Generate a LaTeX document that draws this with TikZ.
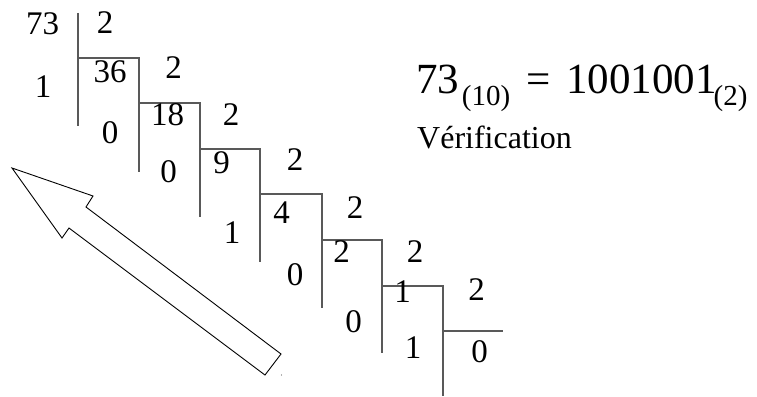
\documentclass[tikz,border=0pt]{standalone}
\usepackage{fontspec}
\setmainfont{Liberation Serif}
\tikzset{
  dg/.style={anchor=base, inner sep=0pt, font=\fontsize{33}{33}\selectfont},
  big/.style={anchor=base, inner sep=0pt, font=\fontsize{43}{43}\selectfont},
  sub/.style={anchor=base, inner sep=0pt, font=\fontsize{29}{29}\selectfont},
  rule/.style={draw=black!65, line width=1.4pt},
  blockarrow/.style={draw=black, line width=0.9pt, fill=white, line join=miter}
}
\begin{document}
\begin{tikzpicture}[x=1pt,y=-1pt]
\useasboundingbox (0,0) rectangle (757,396);
% division lines
\coordinate (a1) at (78,13);   \coordinate (a2) at (78,126);
\coordinate (h1a) at (78,58);  \coordinate (h1b) at (139,58);
\coordinate (b2) at (139,172);
\coordinate (h2b) at (200,103);
\coordinate (c2) at (200,217);
\coordinate (h3b) at (260,149);
\coordinate (d2) at (260,262);
\coordinate (h4b) at (322,194);
\coordinate (e2) at (322,308);
\coordinate (h5b) at (382,240);
\coordinate (f2) at (382,353);
\coordinate (h6b) at (443,286);
\coordinate (g2) at (443,396);
\coordinate (h7b) at (503,331);
\draw[rule] (a1) -- (a2);
\draw[rule] (h1a) -- (h1b) -- (b2);
\draw[rule] (h1b |- h2b) -- (h2b) -- (c2);
\draw[rule] (h2b |- h3b) -- (h3b) -- (d2);
\draw[rule] (h3b |- h4b) -- (h4b) -- (e2);
\draw[rule] (h4b |- h5b) -- (h5b) -- (f2);
\draw[rule] (h5b |- h6b) -- (h6b) -- (g2);
\draw[rule] (h6b |- h7b) -- (h7b);
% digits
\node[dg] (n73) at (42.5,35) {73};
\node[dg] (d1) at (105,34) {2};
\node[dg] (r1) at (43,97) {1};
\node[dg] (q1) at (110,82) {36};
\node[dg] (d2) at (173.5,78) {2};
\node[dg] (r2) at (110,143) {0};
\node[dg] (q2) at (167.5,125) {18};
\node[dg] (d3) at (231,125) {2};
\node[dg] (r3) at (168.5,182) {0};
\node[dg] (q3) at (221.5,173) {9};
\node[dg] (d4) at (295,170) {2};
\node[dg] (r4) at (232,243) {1};
\node[dg] (q4) at (281.5,223) {4};
\node[dg] (d5) at (355,218) {2};
\node[dg] (r5) at (295,285) {0};
\node[dg] (q5) at (341.5,262) {2};
\node[dg] (d6) at (415,262) {2};
\node[dg] (r6) at (353.5,332) {0};
\node[dg] (q6) at (402.5,302) {1};
\node[dg] (d7) at (476.5,300) {2};
\node[dg] (r7) at (413,358) {1};
\node[dg] (q7) at (479.5,362) {0};
% result
\node[big] (f73) at (437.5,93) {73};
\node[sub] (f10) at (486,105) {(10)};
\node[big] (feq) at (538.5,93) {=};
\node[big] (fbin) at (641.5,93) {1001001};
\node[sub] (f2) at (730.5,105) {(2)};
\node[anchor=base west, inner sep=0pt, font=\fontsize{32}{32}\selectfont] (verif) at (417,148) {Vérification};
% block arrow
\draw[blockarrow] (12,168) -- (93,196) -- (86,207) -- (281,354) -- (265,375) -- (69,228) -- (62,238) -- cycle;
\fill[black!60] (281.5,375) circle (0.6pt);
\end{tikzpicture}
\end{document}
